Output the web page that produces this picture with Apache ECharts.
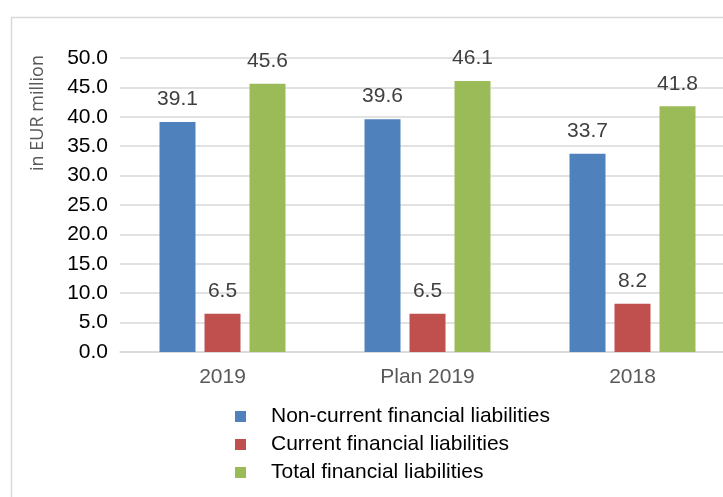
<!DOCTYPE html>
<html>
<head>
<meta charset="utf-8">
<script src="https://cdn.jsdelivr.net/npm/echarts@6/dist/echarts.min.js"></script>
<style>
  html, body { margin: 0; padding: 0; background: #fff; }
  #chart { width: 723px; height: 497px; }
</style>
</head>
<body>
<div id="chart"></div>
<script>
// Financial liabilities by period, EUR million
const categories = ['2019', 'Plan 2019', '2018'];
const nonCurrent = [39.1, 39.6, 33.7];
const current = [6.5, 6.5, 8.2];
const total = [45.6, 46.1, 41.8];
const seriesNames = [
  'Non-current financial liabilities',
  'Current financial liabilities',
  'Total financial liabilities'
];
const axisTitle = 'in EUR million';

const FONT = '"Liberation Sans", Arial, sans-serif';
const colors = ['#4f81bd', '#c0504d', '#9bbb59'];

const chart = echarts.init(document.getElementById('chart'), null, { renderer: 'canvas' });

function barSeries(name, data, color) {
  return {
    name: name,
    type: 'bar',
    data: data,
    barWidth: 36,
    barGap: '25%',
    itemStyle: { color: color },
    label: {
      show: true,
      position: 'top',
      distance: 12,
      color: '#404040',
      fontFamily: FONT,
      fontSize: 21,
      formatter: p => p.value.toFixed(1)
    }
  };
}

chart.setOption({
  animation: false,
  backgroundColor: '#fff',
  color: colors,
  grid: {
    left: 120, top: 58, width: 615, height: 294,
    containLabel: false,
    outerBoundsMode: 'none'
  },
  xAxis: {
    type: 'category',
    data: categories,
    axisLine: { lineStyle: { color: '#d9d9d9', width: 1.5 } },
    axisTick: { show: false },
    axisLabel: { color: '#595959', fontFamily: FONT, fontSize: 21, margin: 15 }
  },
  yAxis: {
    type: 'value',
    min: 0,
    max: 50,
    interval: 5,
    axisLine: { show: false },
    axisTick: { show: false },
    splitLine: { lineStyle: { color: '#d9d9d9', width: 1.5 } },
    axisLabel: {
      color: '#000',
      fontFamily: FONT,
      fontSize: 21,
      margin: 12,
      formatter: v => v.toFixed(1)
    }
  },
  legend: {
    orient: 'vertical',
    left: 235,
    top: 406,
    padding: 0,
    itemWidth: 11,
    itemHeight: 11,
    itemGap: 7,
    icon: 'rect',
    textStyle: { color: '#000', fontFamily: FONT, fontSize: 21, padding: [0, 0, 0, 20] },
    data: seriesNames
  },
  graphic: [
    {
      type: 'rect',
      silent: true,
      z: -10,
      shape: { x: 11.5, y: 17.5, width: 800, height: 600 },
      style: { fill: 'none', stroke: '#d9d9d9', lineWidth: 1.5 }
    },
    {
      type: 'text',
      x: 38,
      y: 113,
      rotation: Math.PI / 2,
      style: {
        text: axisTitle,
        fill: '#595959',
        font: '18px "Open Sans", sans-serif',
        align: 'center',
        verticalAlign: 'middle'
      }
    }
  ],
  series: [
    barSeries(seriesNames[0], nonCurrent, colors[0]),
    barSeries(seriesNames[1], current, colors[1]),
    barSeries(seriesNames[2], total, colors[2])
  ]
});
</script>
</body>
</html>
